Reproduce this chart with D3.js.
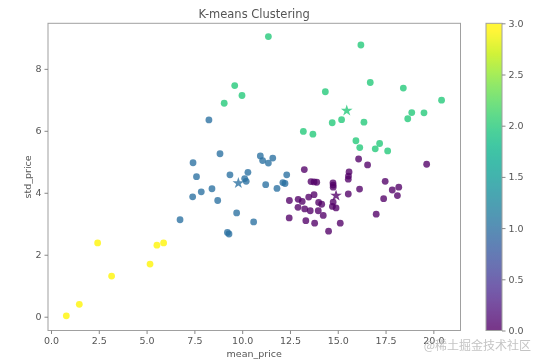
<!DOCTYPE html>
<html>
<head>
<meta charset="utf-8">
<script src="https://cdn.jsdelivr.net/npm/d3@7"></script>
<style>
  body { margin: 0; background: #fff; }
  text { font-family: "DejaVu Sans", sans-serif; fill: #555; }
  .vivid { filter: saturate(1.22) brightness(1.05); }
</style>
</head>
<body>
<script>
// cluster points [mean_price, std_price], one array per cluster label
var cluster0 = [[16.09,5.09],[16.56,4.90],[19.65,4.92],[13.25,4.75],[15.59,4.67],[15.56,4.54],[15.55,4.44],
  [13.60,4.36],[13.76,4.35],[13.90,4.34],[14.75,4.32],[14.76,4.25],[14.76,4.18],[17.48,4.37],[16.14,4.12],
  [18.19,4.18],[17.85,4.09],[15.55,3.96],[13.76,3.94],[13.48,3.86],[18.12,3.91],[17.40,3.81],[12.47,3.75],
  [12.93,3.79],[13.14,3.72],[14.00,3.69],[14.16,3.63],[14.76,3.70],[14.72,3.56],[14.91,3.51],[12.92,3.53],
  [13.27,3.48],[13.56,3.42],[13.98,3.42],[14.24,3.27],[12.46,3.19],[13.33,3.10],[13.79,3.02],[15.13,3.02],
  [17.01,3.31],[14.52,2.76]];
var cluster1 = [[8.26,6.35],[8.84,5.26],[7.43,4.97],[7.61,4.52],[9.36,4.58],[10.30,4.66],[10.13,4.46],
  [10.21,4.37],[10.95,5.19],[11.07,5.04],[11.37,4.96],[11.60,5.12],[12.33,4.58],[12.13,4.33],[12.24,4.30],
  [11.23,4.26],[11.82,4.14],[8.42,4.13],[7.86,4.03],[7.41,3.87],[8.72,3.75],[9.71,3.35],[10.60,3.06],
  [6.75,3.13],[9.23,2.72],[9.31,2.67]];
var cluster2 = [[11.37,9.04],[16.21,8.77],[9.61,7.46],[9.99,7.14],[9.06,6.89],[16.70,7.56],[14.35,7.26],
  [18.43,7.38],[20.43,6.99],[18.87,6.59],[18.66,6.39],[19.51,6.58],[15.20,6.36],[14.71,6.26],[16.37,6.28],
  [13.20,5.98],[13.70,5.89],[15.95,5.68],[16.15,5.46],[17.19,5.59],[16.96,5.42],[17.61,5.35]];
var cluster3 = [[0.80,0.03],[1.48,0.40],[2.44,2.38],[3.17,1.31],[5.18,1.70],[5.54,2.31],[5.89,2.38]];
var centers = [[14.91,3.91],[9.80,4.31],[15.47,6.65]];

var xTicks = [0, 2.5, 5, 7.5, 10, 12.5, 15, 17.5, 20];
var yTicks = [0, 2, 4, 6, 8];
var cbarTicks = [0, 0.5, 1, 1.5, 2, 2.5, 3];

var width = 538, height = 363;
var plot = {left: 48, right: 460.5, top: 23.3, bottom: 330.5};
var cbar = {left: 486, right: 502};
var alpha = 0.78;

var svg = d3.select("body").append("svg")
    .attr("width", width)
    .attr("height", height);

var xScale = d3.scaleLinear().domain([-0.157, 21.42]).range([plot.left, plot.right]);
var yScale = d3.scaleLinear().domain([-0.445, 9.47]).range([plot.bottom, plot.top]);
var color = d3.scaleSequential(d3.interpolateViridis).domain([0, 3]);

// points, one group per label
var clusters = [cluster0, cluster1, cluster2, cluster3];
var points = [];
clusters.forEach(function(c, k){
    c.forEach(function(p){ points.push({x: p[0], y: p[1], k: k}); });
});

var marks = svg.append("g").attr("class", "vivid");

marks.append("g").selectAll("circle")
    .data(points)
    .enter().append("circle")
    .attr("cx", function(d){ return xScale(d.x); })
    .attr("cy", function(d){ return yScale(d.y); })
    .attr("r", 3.4)
    .style("fill", function(d){ return color(d.k); })
    .style("opacity", alpha);

// cluster centres as stars
marks.append("g").selectAll("path")
    .data(centers)
    .enter().append("path")
    .attr("d", d3.symbol().type(d3.symbolStar).size(42))
    .attr("transform", function(d){ return "translate(" + xScale(d[0]) + "," + yScale(d[1]) + ")"; })
    .style("fill", function(d, i){ return color(i); })
    .style("opacity", alpha);

// frame
svg.append("rect")
    .attr("x", plot.left).attr("y", plot.top)
    .attr("width", plot.right - plot.left).attr("height", plot.bottom - plot.top)
    .style("fill", "none").style("stroke", "#a0a0a0").style("stroke-width", 1);

//x axis
var xAxis = d3.axisBottom(xScale).tickValues(xTicks).tickSize(3.5).tickPadding(3)
    .tickFormat(d3.format(".1f"));
var xGuide = svg.append("g")
    .attr("transform", "translate(0," + plot.bottom + ")")
    .call(xAxis);
xGuide.select(".domain").remove();
xGuide.selectAll("line").style("stroke", "#888");
xGuide.selectAll("text").style("font-size", "9.5px").style("fill", "#555")
    .style("font-family", "DejaVu Sans, sans-serif");

//y axis
var yAxis = d3.axisLeft(yScale).tickValues(yTicks).tickSize(3.5).tickPadding(3);
var yGuide = svg.append("g")
    .attr("transform", "translate(" + plot.left + ",0)")
    .call(yAxis);
yGuide.select(".domain").remove();
yGuide.selectAll("line").style("stroke", "#888");
yGuide.selectAll("text").style("font-size", "9.5px").style("fill", "#555")
    .style("font-family", "DejaVu Sans, sans-serif");

// labels
svg.append("text")
    .attr("x", (plot.left + plot.right) / 2).attr("y", 18)
    .attr("text-anchor", "middle")
    .style("font-size", "11.5px")
    .text("K-means Clustering");

svg.append("text")
    .attr("x", (plot.left + plot.right) / 2).attr("y", 357)
    .attr("text-anchor", "middle")
    .style("font-size", "9.5px")
    .text("mean_price");

svg.append("text")
    .attr("transform", "translate(31," + (plot.top + plot.bottom) / 2 + ") rotate(-90)")
    .attr("text-anchor", "middle")
    .style("font-size", "9.5px")
    .text("std_price");

// colorbar
var cScale = d3.scaleLinear().domain([0, 3]).range([plot.bottom, plot.top]);
var grad = svg.append("defs").append("linearGradient")
    .attr("id", "cbar")
    .attr("x1", 0).attr("y1", 1).attr("x2", 0).attr("y2", 0);
grad.selectAll("stop")
    .data(d3.range(0, 1.0001, 0.05))
    .enter().append("stop")
    .attr("offset", function(d){ return d; })
    .attr("stop-color", function(d){ return d3.interpolateViridis(d); });

svg.append("rect")
    .attr("class", "vivid")
    .attr("x", cbar.left).attr("y", plot.top)
    .attr("width", cbar.right - cbar.left).attr("height", plot.bottom - plot.top)
    .style("fill", "url(#cbar)").style("opacity", alpha);
svg.append("rect")
    .attr("x", cbar.left).attr("y", plot.top)
    .attr("width", cbar.right - cbar.left).attr("height", plot.bottom - plot.top)
    .style("fill", "none").style("stroke", "#a0a0a0");

var cAxis = d3.axisRight(cScale).tickValues(cbarTicks).tickSize(3.5).tickPadding(3)
    .tickFormat(d3.format(".1f"));
var cGuide = svg.append("g")
    .attr("transform", "translate(" + cbar.right + ",0)")
    .call(cAxis);
cGuide.select(".domain").remove();
cGuide.selectAll("line").style("stroke", "#888");
cGuide.selectAll("text").style("font-size", "9.5px").style("fill", "#555")
    .style("font-family", "DejaVu Sans, sans-serif");

// watermark
svg.append("text")
    .attr("x", 531).attr("y", 350)
    .attr("text-anchor", "end")
    .style("font-size", "12px")
    .style("fill", "#c4c4c4")
    .style("font-family", "Noto Sans CJK SC, sans-serif")
    .text("@稀土掘金技术社区");
</script>
</body>
</html>
